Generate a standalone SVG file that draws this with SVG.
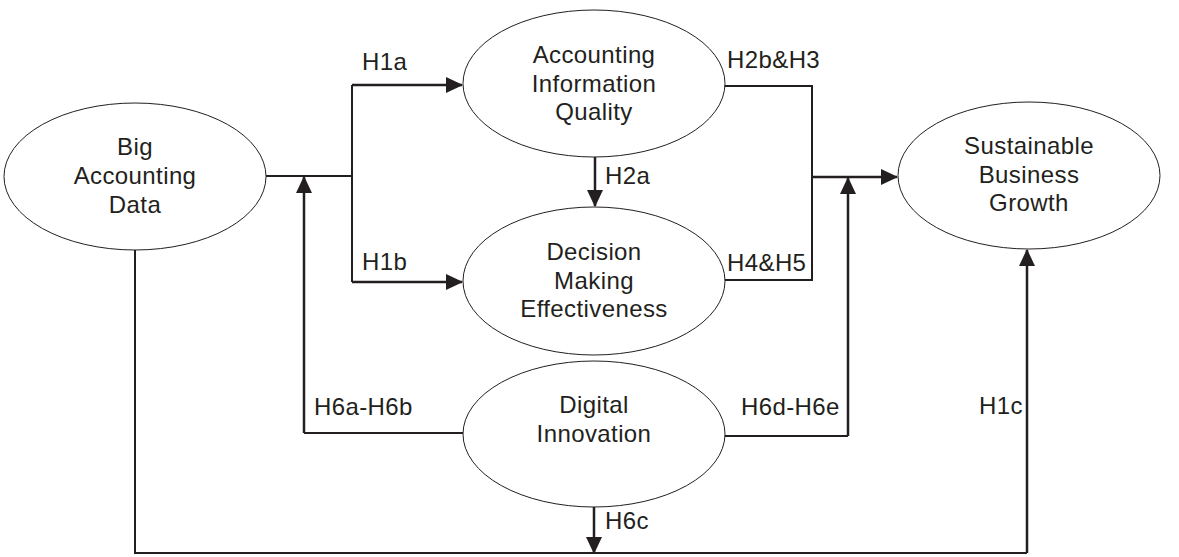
<svg xmlns="http://www.w3.org/2000/svg" width="1179" height="557" viewBox="0 0 1179 557">
<style>
.node ellipse{fill:#fff;stroke:#231f20;stroke-width:1}
text{font-family:"Liberation Sans",Arial,sans-serif;font-size:24px;letter-spacing:0.4px;fill:#231f20}
.c text{text-anchor:middle}
.ln{fill:none;stroke:#231f20;stroke-width:2}
.ar{fill:none;stroke:#231f20;stroke-width:2.5;marker-end:url(#ah)}
</style>
<defs>
<marker id="ah" markerUnits="userSpaceOnUse" markerWidth="17" markerHeight="17" refX="16" refY="8" orient="auto" overflow="visible">
<path d="M0,0 L17,8 L0,16 z" fill="#231f20"/>
</marker>
</defs>
<rect width="1179" height="557" fill="#fff"/>
<g id="connectors">
<path class="ln" d="M266,176 H352"/>
<path class="ln" d="M352,85 V282"/>
<path class="ar" d="M352,85 H462"/>
<path class="ar" d="M352,282 H462"/>
<path class="ar" d="M595,155 V206"/>
<path class="ln" d="M724,86 H812 V280 H724"/>
<path class="ar" d="M812,177 H897"/>
<path class="ln" d="M463,433 H304"/>
<path class="ar" d="M304,433 V177"/>
<path class="ln" d="M725,436 H848"/>
<path class="ar" d="M848,436 V178"/>
<path class="ar" d="M594,507 V553"/>
<path class="ln" d="M135,250 V553 H1027"/>
<path class="ar" d="M1027,553 V250"/>
<text x="362" y="70">H1a</text>
<text x="362" y="270">H1b</text>
<text x="605" y="184">H2a</text>
<text x="727" y="68">H2b&amp;H3</text>
<text x="727" y="271">H4&amp;H5</text>
<text x="314" y="415">H6a-H6b</text>
<text x="741" y="415">H6d-H6e</text>
<text x="605" y="529">H6c</text>
<text x="979" y="414">H1c</text>
</g>
<g id="big-accounting-data" class="node c">
<ellipse cx="135" cy="176.5" rx="131" ry="73.5"/>
<text x="135" y="155">Big</text>
<text x="135" y="184">Accounting</text>
<text x="135" y="213">Data</text>
</g>
<g id="accounting-information-quality" class="node c">
<ellipse cx="594" cy="83.5" rx="131" ry="73.5"/>
<text x="594" y="63">Accounting</text>
<text x="594" y="92">Information</text>
<text x="594" y="120">Quality</text>
</g>
<g id="decision-making-effectiveness" class="node c">
<ellipse cx="594" cy="281" rx="131" ry="74"/>
<text x="594" y="260">Decision</text>
<text x="594" y="289">Making</text>
<text x="594" y="317">Effectiveness</text>
</g>
<g id="digital-innovation" class="node c">
<ellipse cx="594" cy="434" rx="131" ry="73"/>
<text x="594" y="413">Digital</text>
<text x="594" y="442">Innovation</text>
</g>
<g id="sustainable-business-growth" class="node c">
<ellipse cx="1029" cy="175.5" rx="131" ry="73.5"/>
<text x="1029" y="154">Sustainable</text>
<text x="1029" y="183">Business</text>
<text x="1029" y="211">Growth</text>
</g>
</svg>
